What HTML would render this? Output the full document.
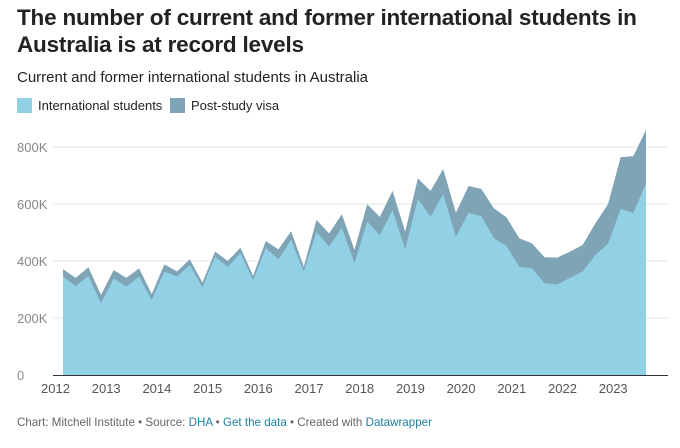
<!DOCTYPE html>
<html><head><meta charset="utf-8"><style>
body{margin:0;background:#fff;width:680px;height:448px;overflow:hidden;font-family:"Liberation Sans",sans-serif;color:#333}
.t{position:absolute;left:17px;top:4px;font-size:22.5px;font-weight:bold;line-height:27px;color:#222;letter-spacing:-0.2px}
.s{position:absolute;left:17px;top:69px;font-size:15px;color:#222}
.lg{position:absolute;top:98px;font-size:13px;color:#222;display:flex;align-items:center}
.sw{width:15px;height:15px;margin-right:6px}
.f{position:absolute;left:17px;top:416px;font-size:11.6px;color:#666}
.f a{color:#1d81a2;text-decoration:none}
</style></head><body>
<div class="t">The number of current and former international students in<br>Australia is at record levels</div>
<div class="s">Current and former international students in Australia</div>
<div class="lg" style="left:17px"><div class="sw" style="background:#91d0e5"></div>International students</div>
<div class="lg" style="left:170px"><div class="sw" style="background:#7fa4b6"></div>Post-study visa</div>
<svg id="c" width="680" height="448" style="position:absolute;left:0;top:0"></svg>
<div class="f">Chart: Mitchell Institute • Source: <a>DHA</a> • <a>Get the data</a> • Created with <a>Datawrapper</a></div>
<script>
const students=[345,312,348,252,339,310,345,263,363,345,386,308,415,380,427,333,445,406,474,363,503,450,517,392,538,491,579,441,618,555,635,485,569,558,480,453,380,374,322,318,341,363,421,460,583,569,672];
const totals=[371,341,378,281,368,341,374,284,388,363,406,324,433,400,447,348,470,441,505,380,544,497,564,439,599,555,646,503,690,646,723,569,663,653,585,553,480,462,413,412,433,456,532,599,764,768,860];
const yTicks=[0,200,400,600,800];
const yLabels=["0","200K","400K","600K","800K"];
const years=[2012,2013,2014,2015,2016,2017,2018,2019,2020,2021,2022,2023];
const NS="http://www.w3.org/2000/svg",svg=document.getElementById('c');
const y=v=>375-v*57/200;
const xi=i=>63+i*(583/46);
const xy=yr=>55.5+(yr-2012)*50.7;
function mk(t,a){const e=document.createElementNS(NS,t);for(const k in a)e.setAttribute(k,a[k]);svg.appendChild(e);return e;}
yTicks.forEach((v,i)=>{
 if(v>0){const g=mk('line',{x1:53,x2:668,y1:y(v),y2:y(v),stroke:'#e6e6e6','stroke-width':1});
 
 }
 const t=mk('text',{x:17,y:y(v)+5,'font-size':13,fill:'#888'});t.textContent=yLabels[i];
 
 
});
function area(arr){let d='M'+xi(0)+','+y(0);arr.forEach((v,i)=>d+='L'+xi(i)+','+y(v));d+='L'+xi(arr.length-1)+','+y(0)+'Z';return d;}
const a1=mk('path',{d:area(totals),fill:'#7fa4b6'});


const a2=mk('path',{d:area(students),fill:'#91d0e5'});


const ax=mk('line',{x1:53,x2:668,y1:375.5,y2:375.5,stroke:'#333','stroke-width':1});


years.forEach(yr=>{const t=mk('text',{x:xy(yr),y:393,'font-size':13,fill:'#555','text-anchor':'middle'});t.textContent=yr;
 
 });
</script>
</body></html>
